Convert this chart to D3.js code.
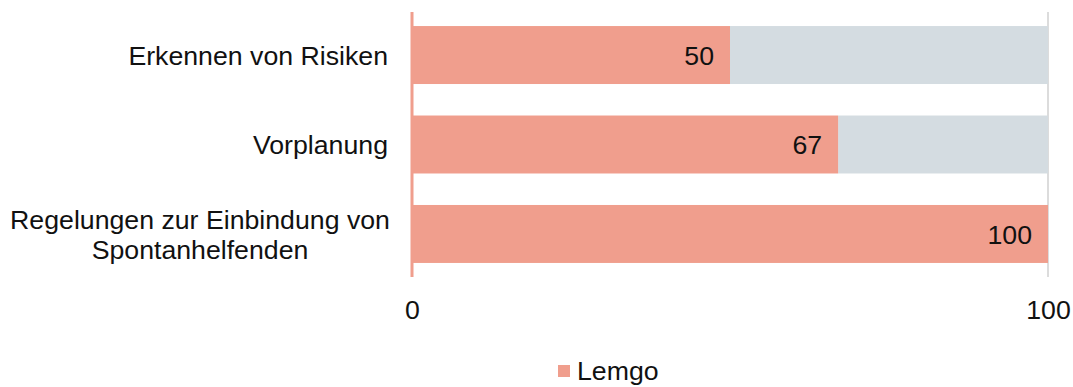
<!DOCTYPE html>
<html>
<head>
<meta charset="utf-8">
<script src="https://cdn.jsdelivr.net/npm/d3@7"></script>
<style>
  html, body { margin: 0; padding: 0; background: #fff; }
  svg { display: block; font-family: "Liberation Sans", Arial, sans-serif; }
</style>
</head>
<body>
<svg id="chart" width="1073" height="387"></svg>
<script>
// Categories (top to bottom) and the share for Lemgo
const categories = [
  ["Erkennen von Risiken"],
  ["Vorplanung"],
  ["Regelungen zur Einbindung von", "Spontanhelfenden"]
];
const lemgo = [50, 67, 100];
const maxValue = 100;
const xTicks = [0, 100];
const seriesName = "Lemgo";

const colors = { bar: "#f09e8d", rest: "#d4dce1", grid: "#d0d0d0", text: "#111" };
const fontSize = 26.7;

const svg = d3.select("#chart");
const plot = { left: 412, right: 1048, top: 12, bottom: 277 };

const x = d3.scaleLinear().domain([0, maxValue]).range([plot.left, plot.right]);
const y = d3.scaleBand()
  .domain(d3.range(categories.length))
  .range([plot.top, plot.bottom])
  .paddingInner(0.352)
  .paddingOuter(0.157);

// gridline at 100
svg.append("g")
  .selectAll("line")
  .data(xTicks.filter(d => d !== 0))
  .join("line")
  .attr("x1", d => x(d)).attr("x2", d => x(d))
  .attr("y1", plot.top).attr("y2", plot.bottom)
  .attr("stroke", colors.grid).attr("stroke-width", 1.5);

// remainder bars (value .. 100)
svg.append("g")
  .selectAll("rect")
  .data(lemgo)
  .join("rect")
  .attr("x", d => x(d))
  .attr("y", (d, i) => y(i))
  .attr("width", d => x(maxValue) - x(d))
  .attr("height", y.bandwidth())
  .attr("fill", colors.rest);

// value bars
svg.append("g")
  .selectAll("rect")
  .data(lemgo)
  .join("rect")
  .attr("x", x(0))
  .attr("y", (d, i) => y(i))
  .attr("width", d => x(d) - x(0))
  .attr("height", y.bandwidth())
  .attr("fill", colors.bar);

// zero axis line
svg.append("line")
  .attr("x1", x(0)).attr("x2", x(0))
  .attr("y1", plot.top).attr("y2", plot.bottom)
  .attr("stroke", colors.bar).attr("stroke-width", 3);

// value labels
svg.append("g")
  .selectAll("text")
  .data(lemgo)
  .join("text")
  .attr("x", d => x(d) - 16)
  .attr("y", (d, i) => y(i) + y.bandwidth() / 2)
  .attr("dy", "0.36em")
  .attr("text-anchor", "end")
  .attr("font-size", fontSize)
  .attr("fill", colors.text)
  .text(d => d);

// category labels
svg.append("g")
  .selectAll("text")
  .data(categories)
  .join("text")
  .attr("font-size", fontSize)
  .attr("fill", colors.text)
  .attr("transform", (d, i) => `translate(0, ${y(i) + y.bandwidth() / 2})`)
  .each(function (lines) {
    const t = d3.select(this);
    const lh = 30;
    const multi = lines.length > 1;
    lines.forEach((ln, k) => {
      t.append("tspan")
        .attr("x", multi ? 200 : 388)
        .attr("text-anchor", multi ? "middle" : "end")
        .attr("y", (k - (lines.length - 1) / 2) * lh)
        .attr("dy", "0.36em")
        .text(ln);
    });
  });

// x axis tick labels
const xAxis = d3.axisBottom(x).tickValues(xTicks).tickSize(0).tickPadding(0);
const gx = svg.append("g")
  .attr("transform", "translate(0, 309.5)")
  .call(xAxis);
gx.select(".domain").remove();
gx.selectAll("text")
  .attr("font-size", fontSize)
  .attr("font-family", "Liberation Sans, Arial, sans-serif")
  .attr("fill", colors.text)
  .attr("dy", "0.36em")
  .attr("y", 0);

// legend
const lg = svg.append("g").attr("transform", "translate(558, 370)");
lg.append("rect").attr("x", 0).attr("y", -5).attr("width", 12).attr("height", 12).attr("fill", colors.bar);
lg.append("text").attr("x", 19).attr("y", 0).attr("dy", "0.36em")
  .attr("font-size", fontSize).attr("fill", colors.text).text(seriesName);
</script>
</body>
</html>
